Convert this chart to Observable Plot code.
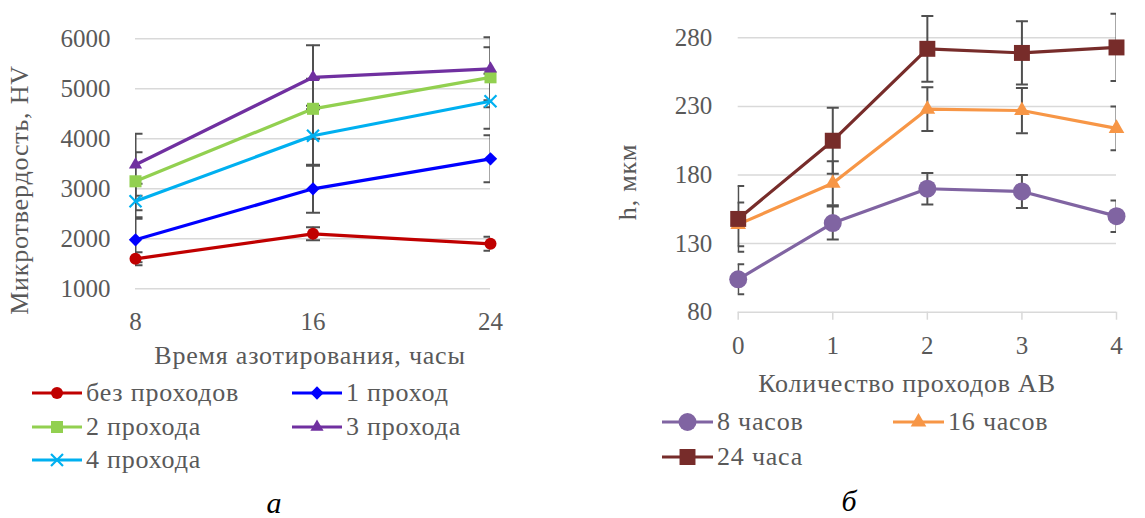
<!DOCTYPE html>
<html><head><meta charset="utf-8">
<script src="https://cdn.jsdelivr.net/npm/d3@7"></script>
<script src="https://cdn.jsdelivr.net/npm/@observablehq/plot@0.6"></script>
<style>
body{margin:0;background:#fff;}
#root{position:relative;width:1145px;height:518px;overflow:hidden;font-family:'Liberation Serif';color:#595959;background:#fff;}
.abs{position:absolute;white-space:nowrap;line-height:1;font-family:'Liberation Serif';letter-spacing:0.8px;}
.plot{position:absolute;top:0;}
.plot text{font-family:'Liberation Serif';}
</style></head><body><div id="root"></div>
<script>
// ---------- Chart а ----------
const hours = [8, 16, 24];
const hvTicks = [1000, 2000, 3000, 4000, 5000, 6000];
const seriesA = ["без проходов", "1 проход", "2 прохода", "3 прохода", "4 прохода"];
const hvNone = [1600, 2100, 1900];
const hv1 = [1980, 3000, 3600];
const hv2 = [3150, 4600, 5230];
const hv3 = [3480, 5230, 5400];
const hv4 = [2750, 4060, 4750];
const errNone = [130, 130, 140];
const err1 = [450, 480, 470];
const err2 = [580, 600, 600];
const err3 = [620, 640, 630];
const err4 = [350, 600, 550];
const colorsA = ["#C00000", "#0000FF", "#92D050", "#7030A0", "#00B0F0"];
const symbolsA = ["circle", "diamond2", "square", "triangle", "times"];
const rA = [6, 6, 6.8, 4.9, 5.5];
const xLabelA = "Время азотирования, часы";
const yLabelA = "Микротвердость, HV";

// ---------- Chart б ----------
const passes = [0, 1, 2, 3, 4];
const hTicks = [80, 130, 180, 230, 280];
const seriesB = ["8 часов", "16 часов", "24 часа"];
const h8 = [104, 145, 170, 168, 150];
const h16 = [144, 174, 228, 227, 214];
const h24 = [148, 205, 272, 269, 273];
const e8 = [11, 12, 11.5, 12, 11.5];
const e16 = [16, 16, 16, 16.5, 16];
const e24 = [24, 24, 24, 23, 24.5];
const colorsB = ["#8064A2", "#F79646", "#772C2A"];
const symbolsB = ["circle", "triangle", "square"];
const rB = [9, 5.8, 9];
const xLabelB = "Количество проходов АВ";
const yLabelB = "h, мкм";

const root = document.getElementById("root");
const errColor = "#505050";
const FONT = "'Liberation Serif'";
const capSymbol = {draw(ctx, size){const r = Math.sqrt(size/Math.PI); ctx.moveTo(-r,0); ctx.lineTo(r,0);}};

function tidy(series, xs, values, errs){
  return series.flatMap((s,i)=>xs.map((x,j)=>({s, x, y: values[i][j], e: errs[i][j]})));
}
const dataA = tidy(seriesA, hours, [hvNone,hv1,hv2,hv3,hv4], [errNone,err1,err2,err3,err4]);
const dataB = tidy(seriesB, passes, [h8,h16,h24], [e8,e16,e24]);

function seriesMarks(data, series, colors, symbols, rs, capR){
  const marks = [];
  series.forEach((s,i)=>{
    const f = d=>d.s===s;
    marks.push(Plot.ruleX(data,{filter:f,x:"x",y1:d=>d.y-d.e,y2:d=>d.y+d.e,stroke:errColor,strokeWidth:2,clip:true}));
    marks.push(Plot.dot(data,{filter:f,x:"x",y:d=>d.y+d.e,symbol:capSymbol,r:capR,fill:"none",stroke:errColor,strokeWidth:2,clip:true}));
    marks.push(Plot.dot(data,{filter:f,x:"x",y:d=>d.y-d.e,symbol:capSymbol,r:capR,fill:"none",stroke:errColor,strokeWidth:2,clip:true}));
  });
  series.forEach((s,i)=>{
    const f = d=>d.s===s;
    marks.push(Plot.line(data,{filter:f,x:"x",y:"y",stroke:colors[i],strokeWidth:3.2,strokeLinejoin:"round"}));
    if (symbols[i]==="times")
      marks.push(Plot.dot(data,{filter:f,x:"x",y:"y",symbol:"times",r:rs[i],fill:"none",stroke:colors[i],strokeWidth:2.2}));
    else
      marks.push(Plot.dot(data,{filter:f,x:"x",y:"y",symbol:symbols[i],r:rs[i],fill:colors[i],stroke:"none"}));
  });
  return marks;
}

const style = {fontFamily:FONT, fontSize:"25px", color:"#595959", background:"transparent", overflow:"visible"};

const plotA = Plot.plot({
  width: 570, height: 370,
  marginLeft: 135, marginRight: 80, marginTop: 33.3, marginBottom: 81.7,
  style,
  x: {domain:[8,24]},
  y: {domain:[1000,6100]},
  marks: [
    Plot.gridY(hvTicks,{stroke:"#d9d9d9",strokeOpacity:1,strokeWidth:1.5}),
    Plot.axisX(hours,{tickSize:0,tickPadding:23,label:null,fill:"#595959"}),
    Plot.axisY(hvTicks,{tickSize:0,tickPadding:25,label:null,tickFormat:d3.format("d"),fill:"#595959"}),
    ...seriesMarks(dataA, seriesA, colorsA, symbolsA, rA, 7)
  ]
});
plotA.classList.add("plot"); plotA.style.left = "0px";
root.appendChild(plotA);

const plotB = Plot.plot({
  width: 545, height: 370,
  marginLeft: 137.7, marginRight: 29, marginTop: 9.9, marginBottom: 58.3,
  style,
  x: {domain:[0,4]},
  y: {domain:[80,300]},
  marks: [
    Plot.gridY(hTicks,{stroke:"#d9d9d9",strokeOpacity:1,strokeWidth:1.5}),
    Plot.axisX(passes,{tickSize:8,tickPadding:16,label:null,stroke:"#d9d9d9",strokeWidth:1.5,fill:"#595959"}),
    Plot.axisY(hTicks,{tickSize:0,tickPadding:26,label:null,fill:"#595959"}),
    ...seriesMarks(dataB, seriesB, colorsB, symbolsB, rB, 6)
  ]
});
plotB.classList.add("plot"); plotB.style.left = "600px";
root.appendChild(plotB);

function addText(txt, cx, cy, opts={}){
  const d = document.createElement("div");
  d.className = "abs";
  d.textContent = txt;
  d.style.fontSize = (opts.size||26)+"px";
  d.style.left = cx+"px"; d.style.top = cy+"px";
  let t = opts.anchor==="start" ? "translate(0,-50%)" : "translate(-50%,-50%)";
  if (opts.rotate) t += " rotate(-90deg)";
  d.style.transform = t;
  if (opts.italic) { d.style.fontStyle = "italic"; d.style.letterSpacing = "0"; }
  if (opts.color) d.style.color = opts.color;
  root.appendChild(d);
  return d;
}
addText(xLabelA, 310, 356);
addText(yLabelA, 20, 190, {rotate:true});
addText(xLabelB, 907, 384);
addText(yLabelB, 628, 182, {rotate:true});
addText("а", 274, 503, {italic:true, size:30, color:"#000"});
addText("б", 849, 501, {italic:true, size:30, color:"#000"});

function legendItem(label, color, symbol, r, x, y, lineW){
  const ns = "http://www.w3.org/2000/svg";
  const svg = document.createElementNS(ns,"svg");
  svg.setAttribute("width", lineW); svg.setAttribute("height", 24);
  svg.style.position="absolute"; svg.style.left = x+"px"; svg.style.top = (y-12)+"px"; svg.style.overflow="visible";
  const ln = document.createElementNS(ns,"line");
  ln.setAttribute("x1",0); ln.setAttribute("x2",lineW); ln.setAttribute("y1",12); ln.setAttribute("y2",12);
  ln.setAttribute("stroke",color); ln.setAttribute("stroke-width",3.2);
  svg.appendChild(ln);
  const symMap = {circle:d3.symbolCircle, diamond2:d3.symbolDiamond2, square:d3.symbolSquare, triangle:d3.symbolTriangle, times:d3.symbolTimes};
  const p = document.createElementNS(ns,"path");
  p.setAttribute("d", d3.symbol(symMap[symbol], r*r*Math.PI)());
  p.setAttribute("transform",`translate(${lineW/2},12)`);
  if (symbol==="times"){p.setAttribute("fill","none");p.setAttribute("stroke",color);p.setAttribute("stroke-width",2.2);}
  else p.setAttribute("fill",color);
  svg.appendChild(p);
  root.appendChild(svg);
  addText(label, x+lineW+4, y, {anchor:"start"});
}
const legPosA = [[32,393],[292,393],[32,427],[292,427],[32,460]];
seriesA.forEach((s,i)=>legendItem(s, colorsA[i], symbolsA[i], rA[i], legPosA[i][0], legPosA[i][1], 50));
const legPosB = [[662,422],[893,422],[662,457]];
seriesB.forEach((s,i)=>legendItem(s, colorsB[i], symbolsB[i], rB[i], legPosB[i][0], legPosB[i][1], 51));
</script></body></html>
